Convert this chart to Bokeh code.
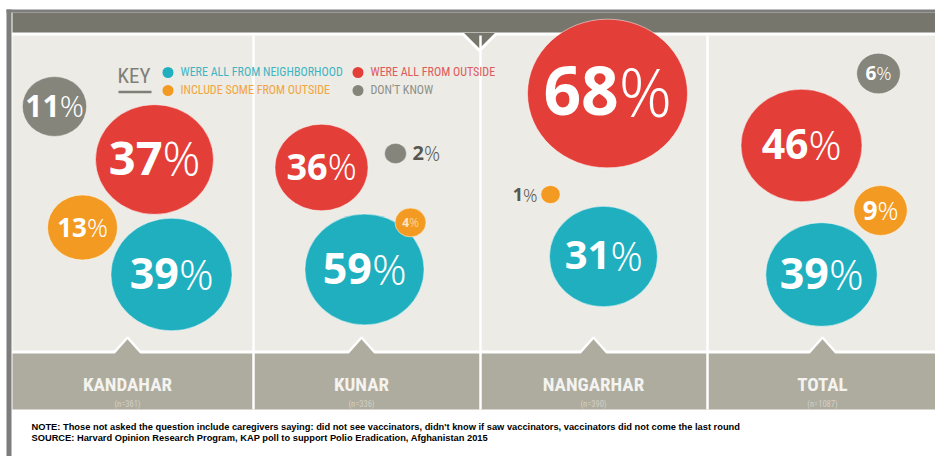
import math
from bokeh.plotting import figure
from bokeh.models import Range1d, ColumnDataSource
from bokeh.core.properties import value
from bokeh.embed import file_html
from bokeh.resources import INLINE

# ---------------- data ----------------
regions = ["KANDAHAR", "KUNAR", "NANGARHAR", "TOTAL"]
sample_sizes = [361, 336, 390, 1087]
all_neighborhood = [39, 59, 31, 39]
all_outside = [37, 36, 68, 46]
some_outside = [13, 4, 1, 9]
dont_know = [11, 2, None, 6]
key_labels = ["WERE ALL FROM NEIGHBORHOOD", "WERE ALL FROM OUTSIDE",
              "INCLUDE SOME FROM OUTSIDE", "DON'T KNOW"]
note_lines = [
    "NOTE: Those not asked the question include caregivers saying: did not see vaccinators, didn't know if saw vaccinators, vaccinators did not come the last round",
    "SOURCE: Harvard Opinion Research Program, KAP poll to support Polio Eradication, Afghanistan 2015",
]

# ---------------- layout / style ----------------
CYAN, RED, ORANGE, GRAY = "#20afbf", "#e33e38", "#f39a22", "#85857b"
KEY_TEXT = ["#3fb5c3", "#df5a5c", "#f2a53e", "#8f8f87"]
PANEL_BG, BAR_BG, TOP_BG, FRAME = "#ecebe5", "#aeac9e", "#76766c", "#7d7d7d"
NUM_FONT = value("Open Sans")
PCT_FONT = value("'Open Sans Light', 'Open Sans', sans-serif")
NARROW = value("'Roboto Condensed', 'Liberation Sans Narrow', 'DejaVu Sans Condensed', sans-serif")
BFIX = 0.41      # renderer baseline correction (em)

panel_edges = [12, 253, 480, 707, 935]
panel_label_x = [127, 361, 593, 822]
panel_scale = [1.0, 0.8, 1.0, 0.92]
K = 9.7          # px per sqrt(percent)
ASPECT = 0.93
DW, PW = 0.572, 0.80   # digit / percent advance (em)

pos_neighborhood = [(171, 274), (364, 269), (603, 256), (821, 274)]
pos_outside = [(154, 159), (321, 167), (607, 93), (801, 145)]
pos_some = [(82, 227), (410, 222), (550, 194), (880, 210)]
pos_dk = [(54, 106), (395, 153), None, (878, 73)]
fs_neighborhood = [43, 43, 40, 43]
fs_outside = [47, 36, 66, 41]
fs_some = [26, 12, 18, 26]
fs_dk = [30, 20, None, 19]
outside_labels = {(2, 2): ("left", 537), (3, 1): ("right", 412)}


def base(y, fs):
    return y - BFIX * fs


p = figure(width=935, height=456, x_range=Range1d(0, 935), y_range=Range1d(456, 0),
           output_backend="svg", toolbar_location=None, min_border=0)
p.axis.visible = False
p.grid.visible = False
p.outline_line_color = None
p.background_fill_color = "white"
p.border_fill_color = "white"

# background panels
p.quad(left=[12], right=[935], top=[35], bottom=[350], fill_color=PANEL_BG, line_color=None)
# top notch + bar
p.patch([460, 498, 479], [31, 31, 50], fill_color=TOP_BG, line_color="white", line_width=3)
p.quad(left=[12], right=[935], top=[12], bottom=[32], fill_color=TOP_BG, line_color=None)
# outer frame
p.quad(left=[6, 6], right=[935, 11], top=[9, 9], bottom=[12, 456], fill_color=FRAME, line_color=None)
# bottom bar with notches
tri_xs = [[c - 16, c + 16, c] for c in panel_label_x]
tri_ys = [[355, 355, 337] for _ in panel_label_x]
p.patches(tri_xs, tri_ys, fill_color=BAR_BG, line_color="white", line_width=2.5)
p.quad(left=[12], right=[935], top=[353], bottom=[409], fill_color=BAR_BG, line_color=None)
# separators
p.segment(x0=panel_edges[1:4], x1=panel_edges[1:4], y0=[35] * 3, y1=[409] * 3,
          line_color="white", line_width=2.5)

# bubbles
series = [
    (all_neighborhood, pos_neighborhood, fs_neighborhood, CYAN),
    (all_outside, pos_outside, fs_outside, RED),
    (some_outside, pos_some, fs_some, ORANGE),
    (dont_know, pos_dk, fs_dk, GRAY),
]
bx, by, bw, bh, bc = [], [], [], [], []
nx, ny, nt, nfs, ncol = [], [], [], [], []
for si, (vals, poss, fss, col) in enumerate(series):
    for ri, v in enumerate(vals):
        if v is None:
            continue
        cx, cy = poss[ri]
        rx = K * panel_scale[ri] * math.sqrt(v)
        bx.append(cx); by.append(cy); bw.append(2 * rx); bh.append(2 * rx * ASPECT); bc.append(col)
        fs = fss[ri]
        n = len(str(v))
        if (si, ri) in outside_labels:
            side, edge = outside_labels[(si, ri)]
            xs = edge - PW * fs if side == "left" else edge + n * DW * fs
            tcol = "#57574f"
        else:
            xs = cx + fs * (n * DW - (n * DW + PW) / 2)
            tcol = "#fde6c2" if fs < 15 else "white"
        nx.append(xs); ny.append(base(cy + 0.357 * fs + 1, fs)); nt.append(str(v))
        nfs.append(f"{fs}px"); ncol.append(tcol)

p.ellipse(x=bx, y=by, width=bw, height=bh, width_units="screen", height_units="screen",
          fill_color=bc, line_color="white", line_alpha=0.5, line_width=1)
num_src = ColumnDataSource(dict(x=nx, y=ny, text=nt, fs=nfs, c=ncol))
pct_src = ColumnDataSource(dict(x=nx, y=ny, text=["%"] * len(nx), fs=nfs, c=ncol))
p.text(x="x", y="y", text="text", source=num_src, text_font=NUM_FONT, text_font_style="bold",
       text_font_size="fs", text_color="c", text_align="right", text_baseline="alphabetic")
p.text(x="x", y="y", text="text", source=pct_src, text_font=PCT_FONT, text_font_style="normal",
       text_font_size="fs", text_color="c", text_align="left", text_baseline="alphabetic")

# key
p.text(x=[117], y=[base(84, 21)], text=["KEY"], text_font=NARROW, text_font_size="21px",
       text_color="#7f7f77", text_baseline="alphabetic")
p.segment(x0=[118], x1=[151], y0=[91.5], y1=[91.5], line_color="#7f7f77", line_width=2.5)
key_x = [167.5, 357.5, 167.5, 357.5]
key_y = [72, 72, 90, 90]
p.scatter(x=key_x, y=key_y, size=11, color=[CYAN, RED, ORANGE, GRAY], line_color=None)
p.text(x=[k + 12.5 for k in key_x], y=[base(k + 4.5, 12) for k in key_y], text=key_labels,
       text_font=NARROW, text_font_size="12px", text_color=KEY_TEXT, text_baseline="alphabetic")

# region labels
p.text(x=panel_label_x, y=[base(392, 19)] * 4, text=regions, text_font=NARROW,
       text_font_style="bold", text_font_size="19px", text_color="#f4f3ef",
       text_align="center", text_baseline="alphabetic")
p.text(x=panel_label_x, y=[base(407, 8.5)] * 4, text=[f"(n={n})" for n in sample_sizes],
       text_font=NARROW, text_font_size="8.5px", text_color="#d3d0c5",
       text_align="center", text_baseline="alphabetic")

# notes
p.text(x=[31, 31], y=[base(430, 9.3), base(441, 9.3)], text=note_lines,
       text_font=value("Liberation Sans"), text_font_style="bold", text_font_size="9.3px",
       text_color="black", text_baseline="alphabetic")

open("out.html", "w").write(file_html(p, INLINE))
